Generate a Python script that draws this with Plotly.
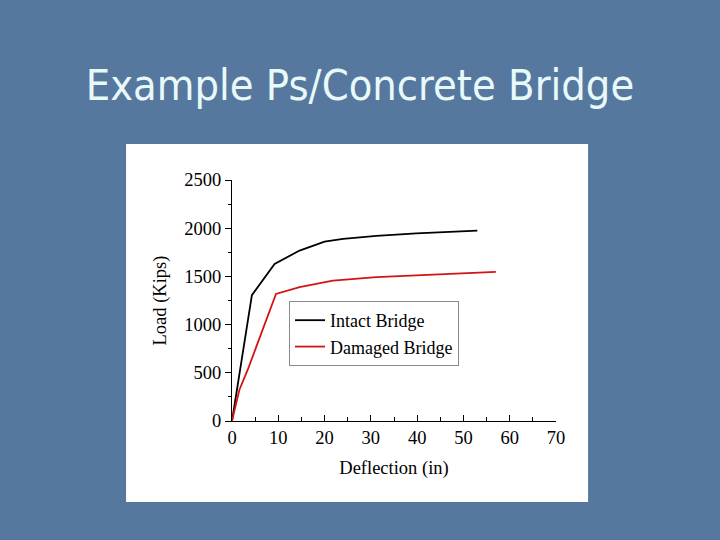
import plotly.graph_objects as go

intact_x = [0, 4.3, 9.2, 14.6, 20, 24, 31.2, 39.8, 53]
intact_y = [0, 1305, 1630, 1768, 1861, 1889, 1920, 1947, 1975]
damaged_x = [0, 1.6, 3.4, 9.5, 14.6, 21.8, 31.2, 39.8, 57]
damaged_y = [0, 324, 532, 1318, 1388, 1457, 1492, 1509, 1547]

title_text = "Example Ps/Concrete Bridge"
serif = "Liberation Serif, Times New Roman, serif"

fig = go.Figure()
fig.add_trace(go.Scatter(x=intact_x, y=intact_y, mode="lines", name="Intact Bridge",
                         line=dict(color="#000000", width=1.8)))
fig.add_trace(go.Scatter(x=damaged_x, y=damaged_y, mode="lines", name="Damaged Bridge",
                         line=dict(color="#d41414", width=1.8)))

fig.update_layout(
    width=720, height=540,
    margin=dict(l=232, r=164, t=180, b=119),
    paper_bgcolor="#56789f",
    plot_bgcolor="white",
    showlegend=True,
    legend=dict(x=0.176, y=0.498, xanchor="left", yanchor="top",
                bgcolor="white", bordercolor="#8a8a8a", borderwidth=1,
                font=dict(family=serif, size=18, color="black"),
                tracegroupgap=0, itemwidth=30),
    title=dict(text=title_text, x=0.5, xref="container", y=0.842, yref="container",
               xanchor="center", yanchor="middle",
               font=dict(family="DejaVu Sans Condensed, DejaVu Sans", size=43, color="#e8f9fa")),
    shapes=[dict(type="rect", xref="paper", yref="paper",
                 x0=-0.327, x1=1.099, y0=-0.336, y1=1.149,
                 fillcolor="white", line=dict(width=0), layer="below")],
)
fig.update_xaxes(range=[0, 70], dtick=10, showgrid=False, zeroline=False,
                 showline=True, linecolor="black", linewidth=1.2,
                 ticks="inside", ticklen=6, tickcolor="black",
                 minor=dict(dtick=5, ticks="inside", ticklen=4, tickcolor="black"),
                 tickfont=dict(family=serif, size=18.5, color="black"),
                 title=dict(text="Deflection (in)", font=dict(family=serif, size=18.5, color="black"),
                            standoff=13))
fig.update_yaxes(range=[0, 2500], dtick=500, showgrid=False, zeroline=False,
                 showline=True, linecolor="black", linewidth=1.2,
                 ticks="outside", ticklen=6, tickcolor="black",
                 minor=dict(dtick=250, ticks="outside", ticklen=3, tickcolor="black"),
                 tickfont=dict(family=serif, size=18.5, color="black"),
                 title=dict(text="Load (Kips)", font=dict(family=serif, size=18.5, color="black"),
                            standoff=12))

fig.write_html("out.html", config={"displayModeBar": False},
               post_script="document.body.style.margin='0';document.body.style.overflow='hidden';")
